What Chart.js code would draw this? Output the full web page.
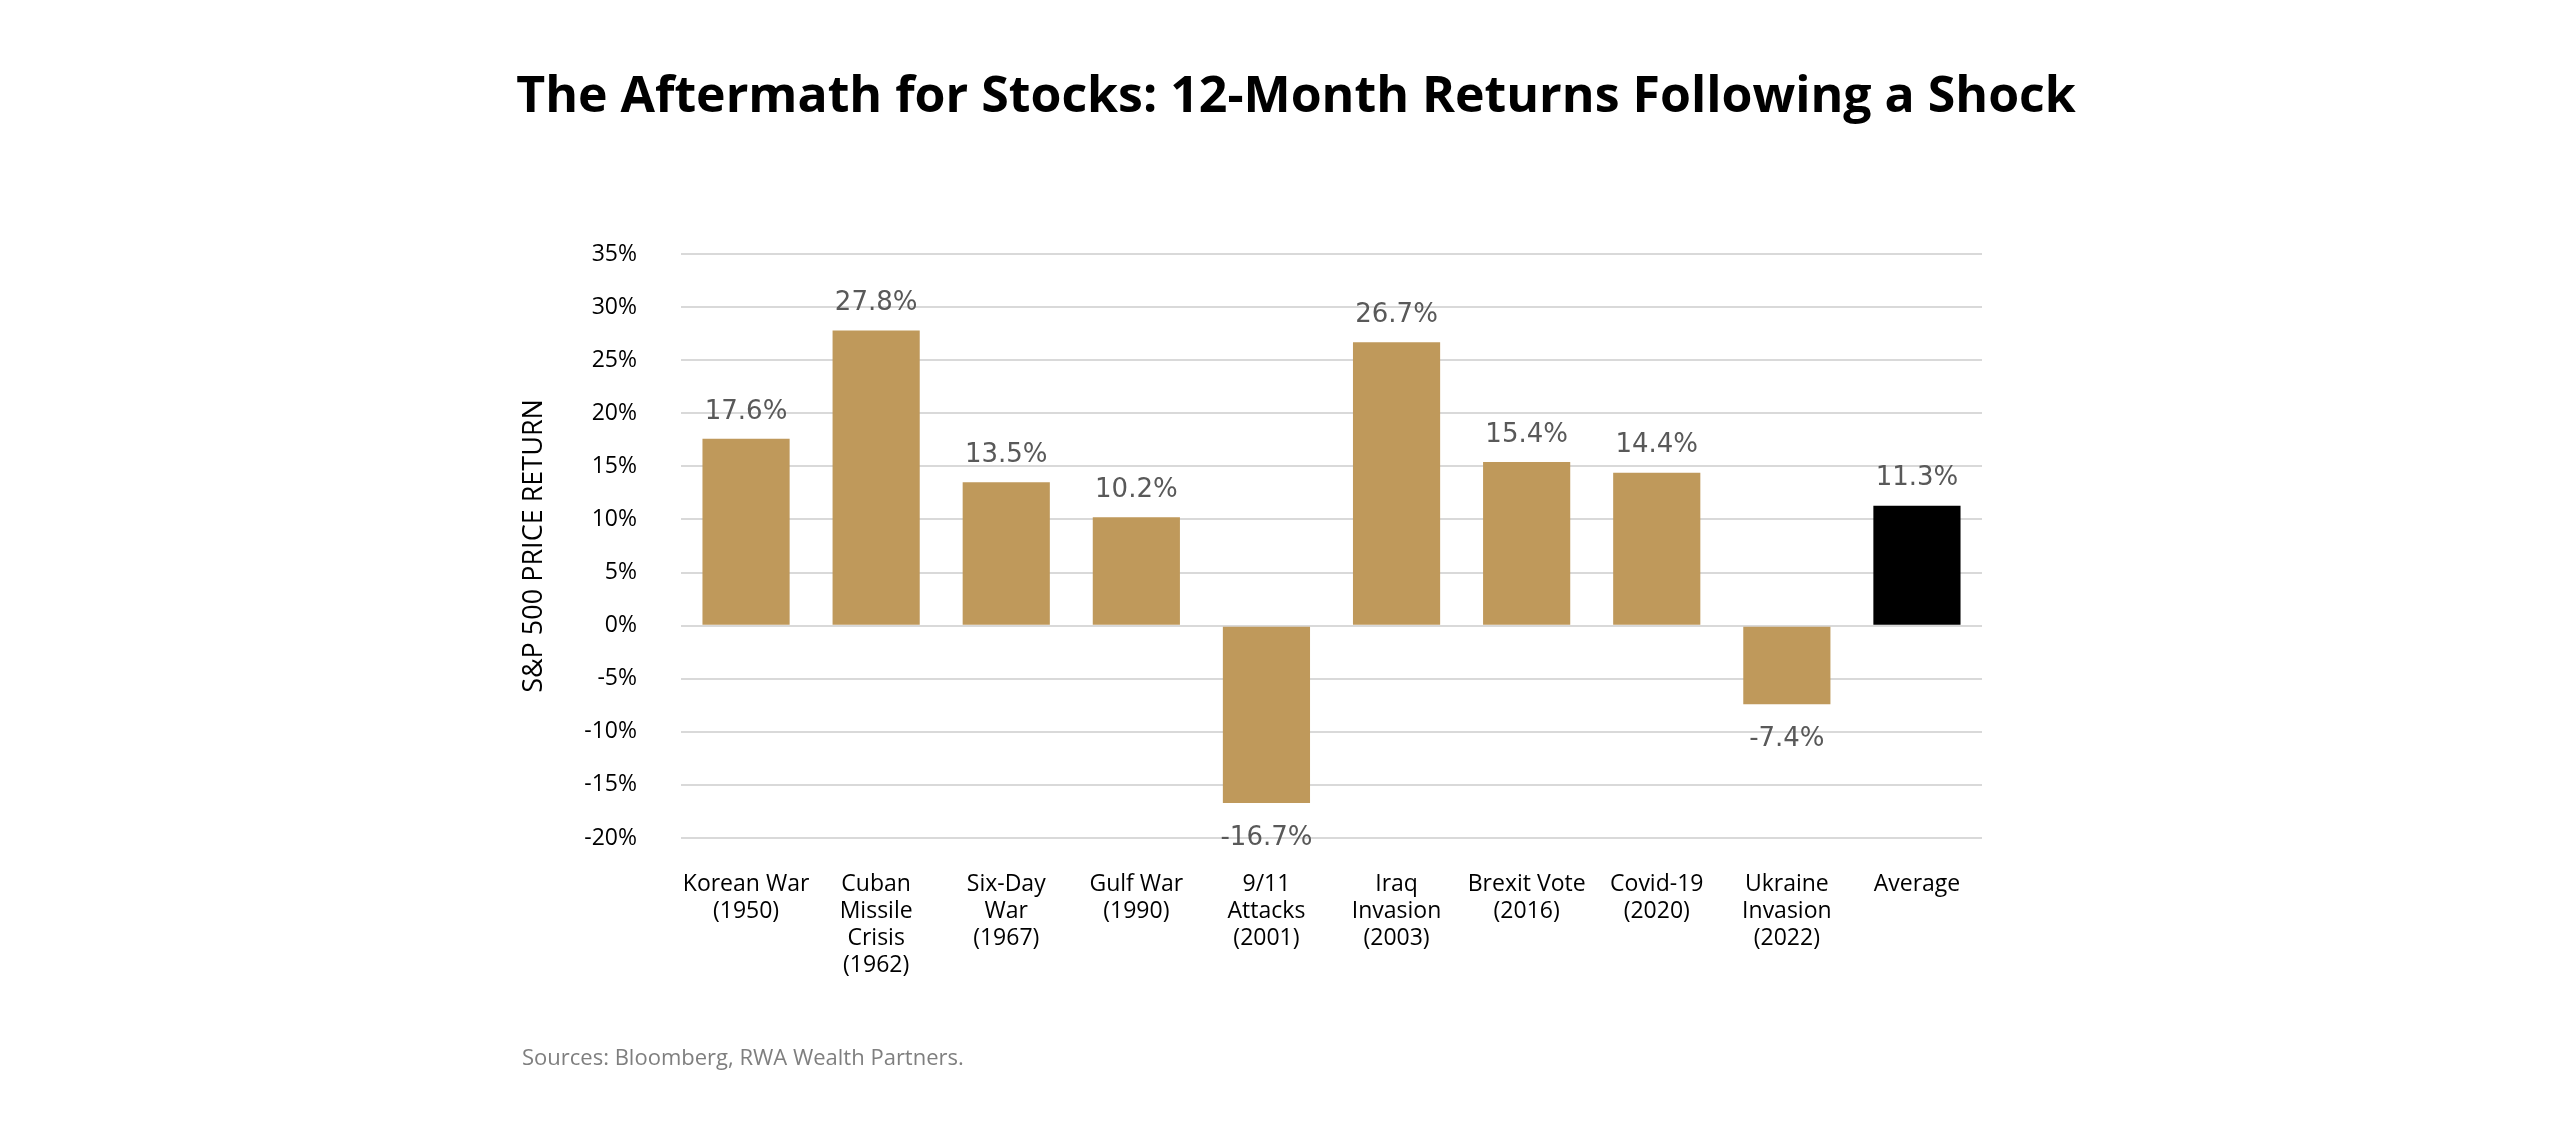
<!DOCTYPE html>
<html>
<head>
<meta charset="utf-8">
<script src="https://cdn.jsdelivr.net/npm/chart.js@4"></script>
<style>
  html, body { margin: 0; padding: 0; background: #fff; }
  body { width: 2560px; height: 1134px; position: relative; overflow: hidden; }
  #title {
    position: absolute; left: 16px; width: 2560px; top: 58px;
    text-align: center; font-family: "Open Sans", sans-serif; font-weight: 700;
    font-size: 50px; color: #000; line-height: 70px;
  }
  #source {
    position: absolute; left: 522px; top: 1041px;
    font-family: "Open Sans", sans-serif; font-size: 22px; color: #7f7f7f;
  }
  #box { position: absolute; left: 0; top: 0; width: 2560px; height: 1134px; }
</style>
</head>
<body>
<div id="title">The Aftermath for Stocks: 12-Month Returns Following a Shock</div>
<div id="box"><canvas id="chart"></canvas></div>
<div id="source">Sources: Bloomberg, RWA Wealth Partners.</div>
<script>
// Kategoriler (çok satırlı etiketler)
const categories = [
    ['Korean War', '(1950)'],
    ['Cuban', 'Missile', 'Crisis', '(1962)'],
    ['Six-Day', 'War', '(1967)'],
    ['Gulf War', '(1990)'],
    ['9/11', 'Attacks', '(2001)'],
    ['Iraq', 'Invasion', '(2003)'],
    ['Brexit Vote', '(2016)'],
    ['Covid-19', '(2020)'],
    ['Ukraine', 'Invasion', '(2022)'],
    ['Average']
];

// 12 aylık getiriler (%)
const returns = [17.6, 27.8, 13.5, 10.2, -16.7, 26.7, 15.4, 14.4, -7.4, 11.3];

// Y ekseni
const yMin = -20;
const yMax = 35;
const yStep = 5;

const gold = '#BF995B';
const barColors = returns.map((v, i) => i === returns.length - 1 ? '#000000' : gold);

// Değer etiketleri
const valueLabels = {
    id: 'valueLabels',
    afterDatasetsDraw(chart) {
        const ctx = chart.ctx;
        const meta = chart.getDatasetMeta(0);
        ctx.save();
        ctx.font = '26px "DejaVu Sans", sans-serif';
        ctx.fillStyle = '#595959';
        ctx.textAlign = 'center';
        meta.data.forEach((bar, i) => {
            const v = returns[i];
            const text = v.toFixed(1) + '%';
            if (v >= 0) {
                ctx.textBaseline = 'bottom';
                ctx.fillText(text, bar.x, bar.y - 14);
            } else {
                ctx.textBaseline = 'top';
                ctx.fillText(text, bar.x, bar.y + 22);
            }
        });
        ctx.restore();
    }
};

const ctx = document.getElementById('chart').getContext('2d');
new Chart(ctx, {
    type: 'bar',
    data: {
        labels: categories,
        datasets: [{
            data: returns,
            backgroundColor: barColors,
            categoryPercentage: 1,
            barPercentage: 0.67
        }]
    },
    options: {
        responsive: true,
        maintainAspectRatio: false,
        animation: false,
        devicePixelRatio: 1,
        layout: {
            padding: { left: 500, right: 578, top: 254, bottom: 96 }
        },
        plugins: {
            legend: { display: false },
            tooltip: { enabled: false }
        },
        scales: {
            x: {
                grid: { display: false, drawTicks: false },
                border: { display: false },
                ticks: {
                    color: '#000',
                    font: { family: 'Open Sans', size: 23, lineHeight: 1.17 },
                    padding: 33,
                    maxRotation: 0,
                    autoSkip: false
                },
                afterFit(scale) { scale.height = 200; }
            },
            y: {
                min: yMin,
                max: yMax,
                grid: { color: '#d9d9d9', lineWidth: 2, drawTicks: false },
                border: { display: false },
                ticks: {
                    stepSize: yStep,
                    color: '#000',
                    font: { family: 'Open Sans', size: 23 },
                    padding: 44,
                    callback: value => value + '%'
                },
                title: {
                    display: true,
                    text: 'S&P 500 PRICE RETURN',
                    color: '#000',
                    font: { family: 'Open Sans', size: 27 },
                    padding: { top: 18, bottom: 0 }
                },
                afterFit(scale) { scale.width = 181; }
            }
        }
    },
    plugins: [valueLabels]
});
</script>
</body>
</html>
